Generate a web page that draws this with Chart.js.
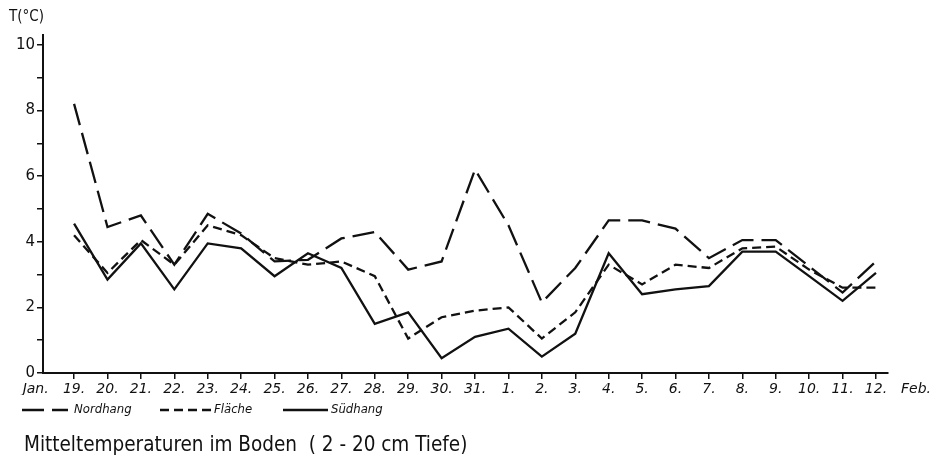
<!DOCTYPE html>
<html>
<head>
<meta charset="utf-8">
<script src="https://cdn.jsdelivr.net/npm/chart.js@4.4.1/dist/chart.umd.min.js"></script>
<style>
  html, body { margin: 0; padding: 0; background: #fff; }
</style>
</head>
<body>
<canvas id="myChart" width="943" height="472"></canvas>
<script>
// Tage 19. Jan. bis 12. Feb.
const dayLabels = ["19.", "20.", "21.", "22.", "23.", "24.", "25.", "26.", "27.", "28.", "29.", "30.", "31.",
  "1.", "2.", "3.", "4.", "5.", "6.", "7.", "8.", "9.", "10.", "11.", "12."];
const monthLabels = ["Jan.", "Feb."];
const seriesNames = ["Nordhang", "Fläche", "Südhang"];
const yTicks = [0, 1, 2, 3, 4, 5, 6, 7, 8, 9, 10];

// Mitteltemperaturen (°C)
const nordhang = [8.2, 4.45, 4.8, 3.3, 4.85, 4.25, 3.4, 3.45, 4.1, 4.3, 3.15, 3.4, 6.2,
  4.5, 2.15, 3.2, 4.65, 4.65, 4.4, 3.5, 4.05, 4.05, 3.25, 2.45, 3.4];
const flaeche = [4.2, 3.05, 4.05, 3.3, 4.5, 4.2, 3.5, 3.3, 3.4, 2.95, 1.05, 1.7, 1.9,
  2.0, 1.05, 1.85, 3.3, 2.7, 3.3, 3.2, 3.8, 3.85, 3.15, 2.6, 2.6];
const suedhang = [4.55, 2.85, 3.95, 2.55, 3.95, 3.8, 2.95, 3.65, 3.2, 1.5, 1.85, 0.45, 1.1,
  1.35, 0.5, 1.2, 3.65, 2.4, 2.55, 2.65, 3.7, 3.7, 2.95, 2.2, 3.05];

const JAN_POS = -1.15;
const FEB_POS = 25.2;
const FONT = '"DejaVu Sans", "Liberation Sans", sans-serif';
const FONT_NARROW = '"DejaVu Sans Condensed", "Liberation Sans Narrow", "DejaVu Sans", sans-serif';

const toPoints = (values) => values.map((y, i) => ({ x: i, y: y }));

const makeDataset = (label, values, dash) => ({
  label: label,
  data: toPoints(values),
  borderColor: "#111",
  borderWidth: 2.3,
  borderDash: dash,
  pointRadius: 0,
  tension: 0,
  fill: false,
});

// Legende und Beschriftung unter dem Diagramm
const captionPlugin = {
  id: "caption",
  afterDraw(chart) {
    const ctx = chart.ctx;
    ctx.save();
    ctx.fillStyle = "#111";
    ctx.strokeStyle = "#111";
    ctx.textBaseline = "middle";

    ctx.font = "15px " + FONT_NARROW;
    ctx.fillText("T(°C)", 9, 17);

    const spots = [
      { x0: 22, x1: 68, tx: 74 },
      { x0: 160, x1: 211, tx: 214 },
      { x0: 283, x1: 328, tx: 331 },
    ];
    const legendY = 410;
    chart.data.datasets.forEach((ds, i) => {
      const s = spots[i];
      ctx.lineWidth = ds.borderWidth;
      ctx.setLineDash(ds.borderDash || []);
      ctx.beginPath();
      ctx.moveTo(s.x0, legendY);
      ctx.lineTo(s.x1, legendY);
      ctx.stroke();
      ctx.setLineDash([]);
      ctx.font = "italic 13px " + FONT_NARROW;
      ctx.fillText(ds.label, s.tx, legendY);
    });

    ctx.font = "20.5px " + FONT_NARROW;
    ctx.fillText("Mitteltemperaturen im Boden  ( 2 - 20 cm Tiefe)", 24, 446);
    ctx.restore();
  },
};

const ctx = document.getElementById("myChart").getContext("2d");
const myChart = new Chart(ctx, {
  type: "line",
  data: {
    datasets: [
      makeDataset(seriesNames[0], nordhang, [22, 8]),
      makeDataset(seriesNames[1], flaeche, [9, 5]),
      makeDataset(seriesNames[2], suedhang, []),
    ],
  },
  options: {
    responsive: false,
    animation: false,
    layout: { padding: { top: 35, right: 55, bottom: 77, left: 0 } },
    plugins: {
      legend: { display: false },
      tooltip: { enabled: false },
    },
    scales: {
      x: {
        type: "linear",
        min: -0.93,
        max: 24.36,
        afterBuildTicks: (scale) => {
          const ticks = dayLabels.map((d, i) => ({ value: i }));
          ticks.unshift({ value: JAN_POS });
          ticks.push({ value: FEB_POS });
          scale.ticks = ticks;
        },
        afterFit: (scale) => {
          scale.height = 22;
          scale.paddingLeft = 0;
          scale.paddingRight = 0;
        },
        border: { display: true, color: "#111", width: 2 },
        grid: {
          drawOnChartArea: false,
          tickLength: 6,
          lineWidth: 1.5,
          color: (c) => (c.tick && Number.isInteger(c.tick.value) ? "#111" : "rgba(0,0,0,0)"),
        },
        ticks: {
          autoSkip: false,
          maxRotation: 0,
          padding: 2,
          color: "#111",
          font: { family: FONT, size: 14, style: "italic" },
          callback: (value) => {
            if (value === JAN_POS) return monthLabels[0];
            if (value === FEB_POS) return monthLabels[1];
            return dayLabels[value];
          },
        },
      },
      y: {
        min: 0,
        max: 10.3,
        afterBuildTicks: (scale) => {
          scale.ticks = yTicks.map((v) => ({ value: v }));
        },
        afterFit: (scale) => {
          scale.width = 43;
          scale.paddingTop = 0;
          scale.paddingBottom = 0;
        },
        border: { display: true, color: "#111", width: 2 },
        grid: { drawOnChartArea: false, tickLength: 6, lineWidth: 1.5, color: "#111" },
        ticks: {
          padding: 2,
          color: "#111",
          font: { family: FONT, size: 15 },
          callback: (value) => (value % 2 === 0 ? String(value) : ""),
        },
      },
    },
  },
  plugins: [captionPlugin],
});
</script>
</body>
</html>
